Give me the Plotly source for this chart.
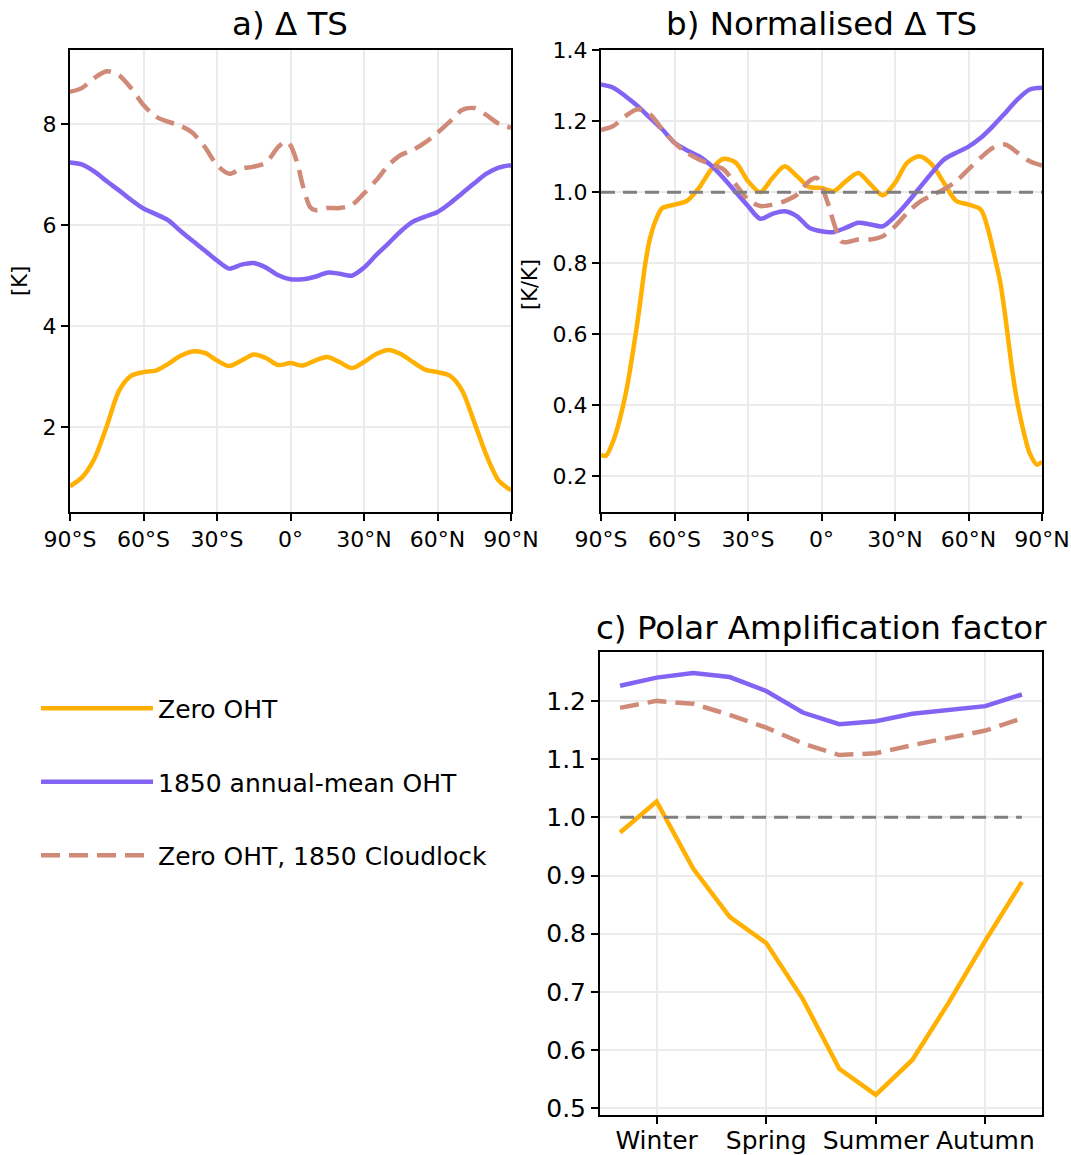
"""Zonal-mean warming and polar amplification comparison figure."""

import plotly.graph_objects as go

# ---- data -------------------------------------------------------------
LAT_5 = [-90, -85, -80, -75, -70, -65, -60, -55, -50, -45, -40, -35, -30,
         -25, -20, -15, -10, -5, 0, 5, 10, 15, 20, 25, 30, 35, 40, 45, 50,
         55, 60, 65, 70, 75, 80, 85, 90]
LAT_DASHED = [-90, -85, -80, -75, -70, -65, -60, -55, -50, -45, -40, -35,
              -30, -25, -20, -15, -10, -5, -2, 0, 3, 5, 8, 10, 15, 20, 25,
              30, 35, 40, 45, 50, 55, 60, 65, 70, 75, 80, 85, 90]
LAT_ZERO_NORM = [-90, -88, -85, -80, -75, -72, -70, -67, -65, -60, -55,
                 -50, -45, -40, -35, -30, -25, -20, -15, -10, -5, 0, 5, 10,
                 15, 20, 25, 30, 35, 40, 45, 50, 55, 60, 65, 68, 70, 73, 75,
                 78, 80, 83, 85, 88, 90]

# a) Delta TS [K]
dts_zero = [0.83, 1.01, 1.38, 2.02, 2.72, 3.02, 3.09, 3.12, 3.25, 3.41, 3.50,
            3.47, 3.32, 3.21, 3.32, 3.44, 3.37, 3.23, 3.27, 3.22, 3.32, 3.39,
            3.29, 3.17, 3.29, 3.45, 3.53, 3.45, 3.29, 3.14, 3.09, 3.02, 2.73,
            2.10, 1.44, 0.94, 0.75]
dts_1850 = [7.24, 7.20, 7.06, 6.87, 6.69, 6.50, 6.33, 6.22, 6.10, 5.89, 5.69,
            5.50, 5.30, 5.14, 5.22, 5.25, 5.16, 5.01, 4.93, 4.93, 4.98, 5.06,
            5.04, 5.00, 5.16, 5.41, 5.64, 5.88, 6.07, 6.17, 6.26, 6.43, 6.63,
            6.83, 7.02, 7.14, 7.19]
dts_cloudlock = [8.64, 8.72, 8.92, 9.05, 8.97, 8.71, 8.38, 8.15, 8.05, 7.97,
                 7.83, 7.55, 7.19, 7.02, 7.12, 7.16, 7.24, 7.55, 7.66, 7.58,
                 7.19, 6.79, 6.36, 6.30, 6.34, 6.34, 6.40, 6.63, 6.89, 7.19,
                 7.39, 7.49, 7.64, 7.83, 8.05, 8.28, 8.32, 8.18, 8.01, 7.93]

# b) normalised Delta TS [K/K]
norm_zero = [0.261, 0.258, 0.300, 0.430, 0.640, 0.795, 0.870, 0.932, 0.955,
             0.965, 0.975, 1.012, 1.064, 1.094, 1.083, 1.031, 1.000, 1.040,
             1.073, 1.045, 1.014, 1.012, 1.003, 1.031, 1.054, 1.022, 0.991,
             1.026, 1.083, 1.101, 1.078, 1.026, 0.975, 0.965, 0.951, 0.895,
             0.838, 0.745, 0.651, 0.491, 0.406, 0.312, 0.265, 0.233, 0.242]
norm_1850 = [1.303, 1.294, 1.270, 1.242, 1.209, 1.177, 1.139, 1.118, 1.101,
             1.075, 1.040, 1.000, 0.961, 0.925, 0.939, 0.946, 0.932, 0.900,
             0.890, 0.888, 0.900, 0.914, 0.909, 0.904, 0.932, 0.970, 1.012,
             1.054, 1.092, 1.111, 1.128, 1.153, 1.186, 1.223, 1.261, 1.289,
             1.294]
norm_cloudlock = [1.175, 1.186, 1.214, 1.233, 1.219, 1.177, 1.139, 1.111,
                  1.092, 1.078, 1.064, 1.022, 0.979, 0.961, 0.965, 0.975,
                  0.993, 1.031, 1.040, 1.017, 0.961, 0.914, 0.862, 0.859,
                  0.867, 0.867, 0.876, 0.904, 0.942, 0.972, 0.991, 1.008,
                  1.031, 1.064, 1.097, 1.125, 1.134, 1.111, 1.087, 1.075]

# c) polar amplification factor, monthly (Dec ... Nov)
months = list(range(12))
pa_zero = [0.974, 1.027, 0.912, 0.829, 0.784, 0.688, 0.568, 0.523, 0.583,
           0.682, 0.788, 0.889]
pa_1850 = [1.226, 1.240, 1.248, 1.241, 1.217, 1.180, 1.160, 1.165, 1.178,
           1.184, 1.191, 1.211]
pa_cloudlock = [1.188, 1.200, 1.195, 1.176, 1.154, 1.127, 1.107, 1.110, 1.124,
                1.136, 1.149, 1.170]

lat_ticks = [-90, -60, -30, 0, 30, 60, 90]
lat_labels = ["90°S", "60°S", "30°S", "0°", "30°N", "60°N", "90°N"]
season_ticks = [1, 4, 7, 10]
season_labels = ["Winter", "Spring", "Summer", "Autumn"]

# ---- style ------------------------------------------------------------
W, H = 1071, 1155
FONT = "DejaVu Sans"
ORANGE = "#FFB000"
PURPLE = "#8263F3"
SALMON = "#D08A78"
GREY = "#808080"
DASH = "19px,9px"
LW = 4.5

SERIES = [
    ("Zero OHT", ORANGE, "solid"),
    ("1850 annual-mean OHT", PURPLE, "solid"),
    ("Zero OHT, 1850 Cloudlock", SALMON, DASH),
]


def px_x(x0, x1):
    return [x0 / W, x1 / W]


def px_y(top, bottom):
    return [1 - bottom / H, 1 - top / H]


fig = go.Figure()


def add_line(x, y, idx, xaxis, yaxis, spline=True, legend=False):
    name, color, dash = SERIES[idx]
    fig.add_trace(go.Scatter(
        x=x, y=y, name=name, mode="lines",
        legendgroup=name, showlegend=legend,
        line=dict(color=color, width=LW, dash=dash,
                  shape="spline" if spline else "linear",
                  smoothing=0.8 if spline else None),
        xaxis=xaxis, yaxis=yaxis,
    ))


def add_unity(x, xaxis, yaxis):
    fig.add_trace(go.Scatter(
        x=[x[0], x[-1]], y=[1.0, 1.0], mode="lines",
        showlegend=False, hoverinfo="skip",
        line=dict(color=GREY, width=3, dash="14px,8px"),
        xaxis=xaxis, yaxis=yaxis,
    ))


# panel a
add_line(LAT_5, dts_zero, 0, "x", "y", legend=True)
add_line(LAT_5, dts_1850, 1, "x", "y", legend=True)
add_line(LAT_DASHED, dts_cloudlock, 2, "x", "y", legend=True)

# panel b
add_line(LAT_ZERO_NORM, norm_zero, 0, "x2", "y2")
add_line(LAT_5, norm_1850, 1, "x2", "y2")
add_line(LAT_DASHED, norm_cloudlock, 2, "x2", "y2")
add_unity(lat_ticks, "x2", "y2")

# panel c
add_line(months, pa_zero, 0, "x3", "y3", spline=False)
add_line(months, pa_1850, 1, "x3", "y3", spline=False)
add_line(months, pa_cloudlock, 2, "x3", "y3", spline=False)
add_unity(months, "x3", "y3")

axis_common = dict(
    showline=True, linecolor="black", linewidth=2, mirror=True,
    ticks="outside", ticklen=7, tickwidth=2, tickcolor="black",
    showgrid=True, gridcolor="#ebebeb", gridwidth=1.5,
    zeroline=False, automargin=False,
)
small_ticks = dict(tickfont=dict(family=FONT, size=22, color="black"))
big_ticks = dict(tickfont=dict(family=FONT, size=25, color="black"))

fig.update_layout(
    width=W, height=H,
    margin=dict(l=0, r=0, t=0, b=0),
    paper_bgcolor="white", plot_bgcolor="white",
    font=dict(family=FONT, color="black"),
    xaxis=dict(domain=px_x(70, 511), range=[-90, 90], tickvals=lat_ticks,
               ticktext=lat_labels, anchor="y", **axis_common, **small_ticks),
    yaxis=dict(domain=px_y(50, 512), range=[0.32, 9.47], tickvals=[2, 4, 6, 8],
               anchor="x", **axis_common, **small_ticks),
    xaxis2=dict(domain=px_x(601, 1042), range=[-90, 90], tickvals=lat_ticks,
                ticktext=lat_labels, anchor="y2", **axis_common, **small_ticks),
    yaxis2=dict(domain=px_y(50, 512), range=[0.1, 1.4],
                tickvals=[0.2, 0.4, 0.6, 0.8, 1.0, 1.2, 1.4], tickformat=".1f",
                anchor="x2", **axis_common, **small_ticks),
    xaxis3=dict(domain=px_x(600, 1042), range=[-0.55, 11.55],
                tickvals=season_ticks, ticktext=season_labels, anchor="y3",
                ticklabelstandoff=-5, **axis_common, **big_ticks),
    yaxis3=dict(domain=px_y(652, 1115), range=[0.4885, 1.284],
                tickvals=[0.5, 0.6, 0.7, 0.8, 0.9, 1.0, 1.1, 1.2],
                tickformat=".1f", anchor="x3", **axis_common, **big_ticks),
    legend=dict(
        x=36 / W, y=1 - 782 / H, xanchor="left", yanchor="middle",
        font=dict(family=FONT, size=25, color="black"),
        bgcolor="rgba(0,0,0,0)", tracegroupgap=38, itemwidth=112,
    ),
)

titles = [
    ("a) Δ TS", 290, 24),
    ("b) Normalised Δ TS", 821, 24),
    ("c) Polar Amplification factor", 821, 628),
]
for text, cx, cy in titles:
    fig.add_annotation(text=text, x=cx / W, y=1 - cy / H, xref="paper",
                       yref="paper", showarrow=False, xanchor="center",
                       yanchor="middle",
                       font=dict(family=FONT, size=32.5, color="black"))

for text, cx, cy in [("[K]", 20, 281), ("[K/K]", 530, 285)]:
    fig.add_annotation(text=text, x=cx / W, y=1 - cy / H, xref="paper",
                       yref="paper", showarrow=False, textangle=-90,
                       xanchor="center", yanchor="middle",
                       font=dict(family=FONT, size=21, color="black"))

fig.write_html("out.html", config={"displayModeBar": False},
               post_script="document.body.style.margin='0';")
